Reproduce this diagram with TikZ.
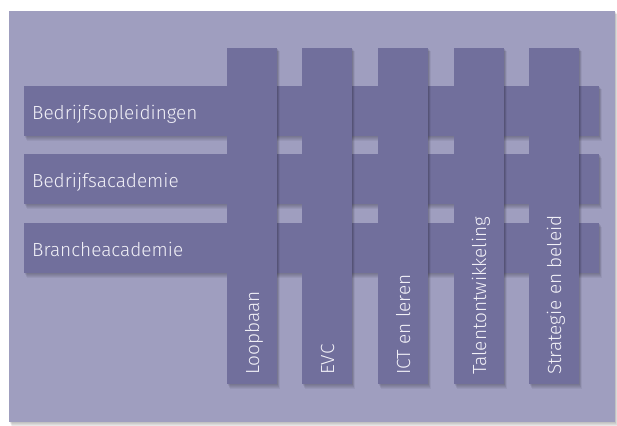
\documentclass[tikz,border=0pt]{standalone}
\usepackage{fontspec}
\setmainfont{Fira Sans}[UprightFont=* Light]
\usetikzlibrary{calc}
\definecolor{bg}{HTML}{9F9EBF}
\definecolor{bar}{HTML}{716F9C}
\definecolor{txt}{HTML}{F2F1F8}
\tikzset{
  hbar/.style={fill=bar, draw=none, minimum height=50pt, anchor=north west, inner sep=0pt},
  vbar/.style={fill=bar, draw=none, minimum width=50pt, anchor=north west, inner sep=0pt},
  lbl/.style={text=txt, inner sep=0pt, font=\fontsize{19}{22}\selectfont},
}
\newcommand{\softshadow}[4]{%
  \foreach \k in {1,...,5}{
    \fill[black, opacity=0.05] ($(#1,#2)+(\k*0.5,\k*0.7)$) rectangle ($(#3,#4)+(\k*0.6,\k*0.9)$);
  }%
}
\begin{document}
\begin{tikzpicture}[x=1pt,y=-1pt]
\useasboundingbox (0,0) rectangle (617,425);
\fill[white] (0,0) rectangle (617,425);
% panel shadow
\softshadow{9}{11}{615}{422}
\fill[bg] (9,11) rectangle (615,422);
% horizontal bars
\foreach \y in {86,154,223}{\softshadow{24}{\y}{599}{\y+50}}
\node[hbar, minimum width=575pt] (h1) at (24,86) {};
\node[hbar, minimum width=575pt] (h2) at (24,154) {};
\node[hbar, minimum width=575pt] (h3) at (24,223) {};
\node[lbl, anchor=base west] (t1) at (32,119) {Bedrijfsopleidingen};
\node[lbl, anchor=base west] (t2) at (32,187) {Bedrijfsacademie};
\node[lbl, anchor=base west] (t3) at (32,256) {Brancheacademie};
% vertical bars
\foreach \x in {227,302,378,454,529}{\softshadow{\x}{48}{\x+50}{384}}
\node[vbar, minimum height=336pt] (v1) at (227,48) {};
\node[vbar, minimum height=336pt] (v2) at (302,48) {};
\node[vbar, minimum height=336pt] (v3) at (378,48) {};
\node[vbar, minimum height=336pt] (v4) at (454,48) {};
\node[vbar, minimum height=336pt] (v5) at (529,48) {};
\node[lbl, rotate=90, anchor=base west] (s1) at (259,375) {Loopbaan};
\node[lbl, rotate=90, anchor=base west] (s2) at (334,375) {EVC};
\node[lbl, rotate=90, anchor=base west] (s3) at (410,375) {ICT en leren};
\node[lbl, rotate=90, anchor=base west] (s4) at (486,375) {Talentontwikkeling};
\node[lbl, rotate=90, anchor=base west] (s5) at (561,375) {Strategie en beleid};
\end{tikzpicture}
\end{document}
